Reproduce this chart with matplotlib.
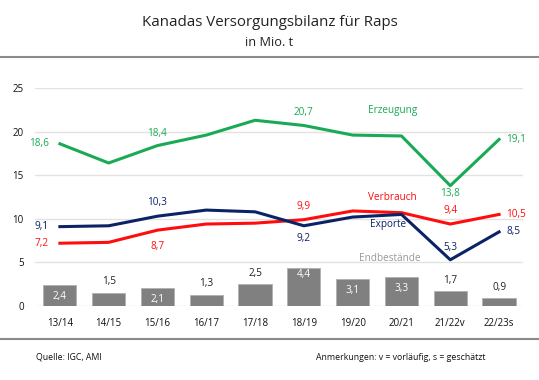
import matplotlib.pyplot as plt
import numpy as np

plt.rcParams['font.family'] = ['Open Sans', 'DejaVu Sans']

jahre = ['13/14', '14/15', '15/16', '16/17', '17/18', '18/19', '19/20', '20/21', '21/22v', '22/23s']
erzeugung = [18.6, 16.4, 18.4, 19.6, 21.3, 20.7, 19.6, 19.5, 13.8, 19.1]
exporte = [9.1, 9.2, 10.3, 11.0, 10.8, 9.2, 10.2, 10.5, 5.3, 8.5]
verbrauch = [7.2, 7.3, 8.7, 9.4, 9.5, 9.9, 10.9, 10.7, 9.4, 10.5]
endbestaende = [2.4, 1.5, 2.1, 1.3, 2.5, 4.4, 3.1, 3.3, 1.7, 0.9]

GREEN = '#1aaa55'
NAVY = '#0b2366'
RED = '#ff0d0d'
GRAY = '#808080'

fig = plt.figure(figsize=(5.39, 3.80), dpi=100)
ax = fig.add_axes([35 / 539, 74 / 380, 488 / 539, 218 / 380])
x = np.arange(len(jahre))

ax.bar(x, endbestaende, width=0.68, color=GRAY, edgecolor='#b0b0b0', linewidth=0.6, zorder=2)
ax.plot(x, erzeugung, color=GREEN, lw=2.2, zorder=3)
ax.plot(x, verbrauch, color=RED, lw=2.2, zorder=3)
ax.plot(x, exporte, color=NAVY, lw=2.2, zorder=4)

ax.set_xlim(-0.51, 9.49)
ax.set_ylim(0, 25)
ax.set_yticks([0, 5, 10, 15, 20, 25])
ax.set_xticks(x)
ax.set_xticklabels(jahre)
ax.tick_params(length=0, labelsize=7, colors='#111111')
ax.tick_params(axis='y', pad=8)
ax.tick_params(axis='x', pad=9)
ax.grid(axis='y', color='#e2e2e2', lw=1, zorder=0)
for s in ax.spines.values():
    s.set_visible(False)

fs = 7.2

def lab(i, vals, color, pos, off=0):
    v = vals[i]
    t = f'{v:.1f}'.replace('.', ',')
    if pos == 'left':
        ax.annotate(t, (i, v), xytext=(-8, 0), textcoords='offset points', ha='right', va='center', color=color, fontsize=fs)
    elif pos == 'right':
        ax.annotate(t, (i, v), xytext=(5, 0), textcoords='offset points', ha='left', va='center', color=color, fontsize=fs)
    else:
        ax.annotate(t, (i, v), xytext=(0, off), textcoords='offset points', ha='center', va='center', color=color, fontsize=fs)

lab(0, erzeugung, GREEN, 'left')
lab(2, erzeugung, GREEN, 'c', 9)
lab(5, erzeugung, GREEN, 'c', 9)
lab(8, erzeugung, GREEN, 'c', -6)
lab(9, erzeugung, GREEN, 'right')

lab(0, exporte, NAVY, 'left')
lab(2, exporte, NAVY, 'c', 10)
lab(5, exporte, NAVY, 'c', -9.5)
lab(8, exporte, NAVY, 'c', 9)
lab(9, exporte, NAVY, 'right')

lab(0, verbrauch, RED, 'left')
lab(2, verbrauch, RED, 'c', -12)
lab(5, verbrauch, RED, 'c', 9.5)
lab(8, verbrauch, RED, 'c', 10)
lab(9, verbrauch, RED, 'right')

ax.text(6.82, 22.4, 'Erzeugung', color=GREEN, fontsize=fs, ha='center', va='center')
ax.text(6.82, 12.5, 'Verbrauch', color=RED, fontsize=fs, ha='center', va='center')
ax.text(6.72, 9.4, 'Exporte', color=NAVY, fontsize=fs, ha='center', va='center')
ax.text(6.76, 5.5, 'Endbestände', color='#999999', fontsize=fs, ha='center', va='center')

inside = [True, False, True, False, False, True, True, True, False, False]
for i, v in enumerate(endbestaende):
    t = f'{v:.1f}'.replace('.', ',')
    if inside[i]:
        yy = v - 1.3 if v < 4 else v - 0.8
        ax.text(i, yy, t, color='white', fontsize=fs, ha='center', va='center', zorder=5)
    else:
        ax.annotate(t, (i, v), xytext=(0, 4), textcoords='offset points', ha='center', va='bottom', color='#222222', fontsize=fs)

fig.text(0.5, 1 - 22 / 380, 'Kanadas Versorgungsbilanz für Raps', ha='center', va='center', fontsize=10.8, color='#222222')
fig.text(0.5, 1 - 42 / 380, 'in Mio. t', ha='center', va='center', fontsize=9.2, color='#222222')
fig.add_artist(plt.Line2D([0, 1], [1 - 57 / 380] * 2, color='#8a8a8a', lw=1.5))
fig.add_artist(plt.Line2D([0, 1], [1 - 339 / 380] * 2, color='#8a8a8a', lw=1.5))
fig.text(36 / 539, 1 - 357 / 380, 'Quelle: IGC, AMI', ha='left', va='center', fontsize=6.3, color='#111111')
fig.text(485 / 539, 1 - 357 / 380, 'Anmerkungen: v = vorläufig, s = geschätzt', ha='right', va='center', fontsize=6.3, color='#111111')

fig.savefig('out.png', dpi=100)
